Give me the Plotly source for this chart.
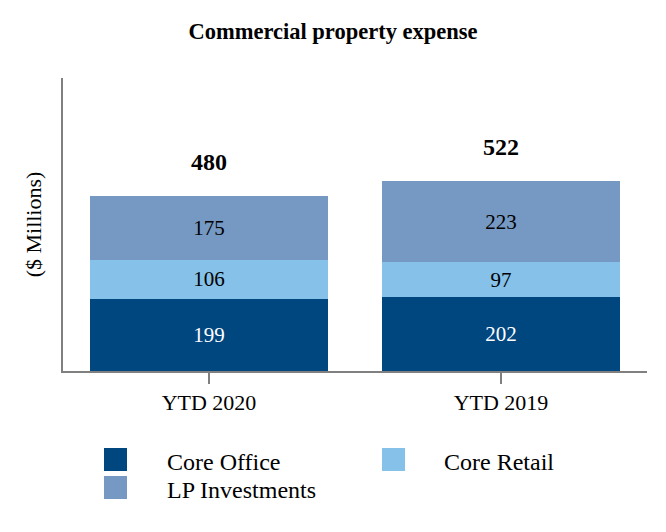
import plotly.graph_objects as go

categories = ["YTD 2020", "YTD 2019"]
core_office = [199, 202]
core_retail = [106, 97]
lp_investments = [175, 223]
totals = [480, 522]

series_names = ["Core Office", "Core Retail", "LP Investments"]
series_values = [core_office, core_retail, lp_investments]
colors = ["#00467F", "#85C1E8", "#7599C3"]
text_colors = ["white", "black", "black"]

FONT = "Liberation Serif, Times New Roman, serif"

fig = go.Figure()
for name, vals, col, tc in zip(series_names, series_values, colors, text_colors):
    fig.add_trace(go.Bar(
        x=categories, y=vals, name=name, marker=dict(color=col, line=dict(width=0)),
        text=[str(v) for v in vals], textposition="inside", insidetextanchor="middle",
        textfont=dict(family=FONT, size=21, color=tc), width=0.815, showlegend=False,
        textangle=0,
    ))

for c, t in zip(categories, totals):
    fig.add_annotation(x=c, y=t, text=f"<b>{t}</b>", showarrow=False, yanchor="middle",
                       yshift=34, font=dict(family=FONT, size=24, color="black"))

W, H = 666, 532
L, R, T, B = 63, 19, 78, 161
pw, ph = W - L - R, H - T - B

def px(x):
    return (x - L) / pw

def py(y):
    return (H - B - y) / ph

legend_items = [
    (series_names[0], colors[0], 104, 448, 165),
    (series_names[1], colors[1], 382, 448, 442),
    (series_names[2], colors[2], 104, 476, 165),
]
for name, col, sx, sy, tx in legend_items:
    fig.add_shape(type="rect", xref="paper", yref="paper",
                  x0=px(sx), x1=px(sx + 23), y0=py(sy + 23), y1=py(sy),
                  fillcolor=col, line=dict(width=0))
    fig.add_annotation(xref="paper", yref="paper", x=px(tx), y=py(sy + 14),
                       text=name, showarrow=False, xanchor="left", yanchor="middle",
                       font=dict(family=FONT, size=24, color="black"))

fig.update_layout(
    width=W, height=H,
    margin=dict(l=L, r=R, t=T, b=B),
    barmode="stack",
    plot_bgcolor="white", paper_bgcolor="white",
    title=dict(text="<b>Commercial property expense</b>", x=0.5, xref="container",
               xanchor="center", y=1 - 31 / H, yanchor="middle",
               font=dict(family=FONT, size=22.5, color="black")),
    font=dict(family=FONT, color="black"),
    xaxis=dict(showline=True, linecolor="#808080", linewidth=2, ticks="outside",
               ticklen=11, tickcolor="#808080", tickwidth=2,
               tickfont=dict(family=FONT, size=22, color="black"), showgrid=False),
    yaxis=dict(range=[0, 805], showline=True, linecolor="#808080", linewidth=2,
               showticklabels=False, ticks="", showgrid=False, zeroline=False,
               title=dict(text="($ Millions)", standoff=13,
                          font=dict(family=FONT, size=22, color="black"))),
    showlegend=False,
)

fig.write_html("out.html", config={"displayModeBar": False},
               post_script="document.body.style.margin='0';")
